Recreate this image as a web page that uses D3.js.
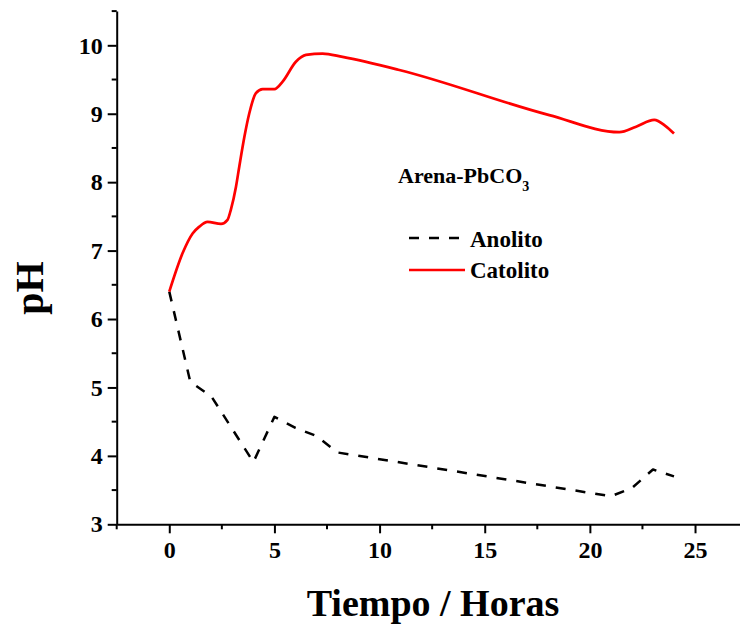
<!DOCTYPE html>
<html><head><meta charset="utf-8">
<script src="https://cdn.jsdelivr.net/npm/d3@7"></script>
<style>body{margin:0;background:#fff}svg{display:block}text{font-family:"Liberation Serif","DejaVu Serif",serif;font-weight:bold}</style>
</head><body>
<script>
const anolitoTime = [0, 1, 2, 3, 4, 5, 6, 7, 8, 21, 22, 23, 24];
const anolitoPH   = [6.4, 5.08, 4.87, 4.39, 3.91, 4.57, 4.41, 4.29, 4.05, 3.41, 3.53, 3.8, 3.7];
const catolitoTime = [0, 0.63, 1.11, 1.43, 1.82, 2.46, 2.77, 2.93, 3.17, 3.33, 3.57, 3.8, 4.12, 4.44, 5.0, 5.39, 6.02, 6.5, 7.29, 8.24, 10.94, 18.07, 21.4, 22.2, 23.06, 23.6, 24.0];
const catolitoPH   = [6.4, 6.96, 7.25, 7.35, 7.42, 7.39, 7.45, 7.6, 7.93, 8.23, 8.66, 9.0, 9.3, 9.36, 9.36, 9.47, 9.76, 9.86, 9.88, 9.83, 9.64, 8.98, 8.73, 8.81, 8.91, 8.82, 8.71];
const xTicks = [0, 5, 10, 15, 20, 25];
const yTicks = [3, 4, 5, 6, 7, 8, 9, 10];

const W = 740, H = 625;
const svg = d3.select("body").append("svg").attr("width", W).attr("height", H);
const x = d3.scaleLinear().domain([-2.5, 27.5]).range([116.7, 747.6]);
const y = d3.scaleLinear().domain([3, 10.5]).range([524.3, 11.1]);

// axes
const xAxis = d3.axisBottom(x).tickValues(xTicks).tickSize(9).tickPadding(8).tickSizeOuter(0);
const gx = svg.append("g").attr("transform", `translate(0,${y(3)})`).call(xAxis);
const xMinor = d3.range(-2.5, 28, 5);
gx.selectAll(".minor").data(xMinor).enter().append("line").attr("class","minor")
  .attr("x1", d => x(d)).attr("x2", d => x(d)).attr("y1", 0).attr("y2", 5)
  .attr("stroke", "#000").attr("stroke-width", 2);
const yAxis = d3.axisLeft(y).tickValues(yTicks).tickSize(9).tickPadding(5).tickSizeOuter(0);
const gy = svg.append("g").attr("transform", `translate(${x(-2.5)},0)`).call(yAxis);
const yMinor = d3.range(3.5, 10.6, 1);
gy.selectAll(".minor").data(yMinor).enter().append("line").attr("class","minor")
  .attr("y1", d => y(d)).attr("y2", d => y(d)).attr("x1", 0).attr("x2", -5)
  .attr("stroke", "#000").attr("stroke-width", 2);
[gx, gy].forEach(g => {
  g.select(".domain").attr("stroke-width", 2);
  g.selectAll(".tick line").attr("stroke-width", 2);
  g.selectAll("text").attr("font-size", 24).attr("font-family", "Liberation Serif").attr("font-weight", "bold").attr("fill", "#000");
});

// lines
const lineA = d3.line().x(d => x(d[0])).y(d => y(d[1])).curve(d3.curveLinear);
const lineC = d3.line().x(d => x(d[0])).y(d => y(d[1])).curve(d3.curveMonotoneX);
svg.append("path").datum(d3.zip(anolitoTime, anolitoPH)).attr("d", lineA)
  .attr("fill", "none").attr("stroke", "#000").attr("stroke-width", 2.5)
  .attr("stroke-linejoin", "round").attr("stroke-dasharray", "10,10");
svg.append("path").datum(d3.zip(catolitoTime, catolitoPH)).attr("d", lineC)
  .attr("fill", "none").attr("stroke", "#ff0000").attr("stroke-width", 2.7);

// axis titles
svg.append("text").attr("x", 433).attr("y", 616).attr("text-anchor", "middle")
  .attr("font-size", 38).text("Tiempo / Horas");
svg.append("text").attr("transform", "translate(43,288) rotate(-90)").attr("text-anchor", "middle")
  .attr("font-size", 40).text("pH");

// legend
const lt = svg.append("text").attr("x", 398).attr("y", 183).attr("font-size", 22);
lt.append("tspan").text("Arena-PbCO");
lt.append("tspan").attr("font-size", 14).attr("dy", 8).text("3");
svg.append("line").attr("x1", 409).attr("x2", 461).attr("y1", 238).attr("y2", 238)
  .attr("stroke", "#000").attr("stroke-width", 2.5).attr("stroke-dasharray", "10,10");
svg.append("text").attr("x", 470).attr("y", 247).attr("font-size", 23).text("Anolito");
svg.append("line").attr("x1", 409).attr("x2", 465).attr("y1", 270).attr("y2", 270)
  .attr("stroke", "#ff0000").attr("stroke-width", 2.7);
svg.append("text").attr("x", 470).attr("y", 278).attr("font-size", 23).text("Catolito");
</script>
</body></html>
